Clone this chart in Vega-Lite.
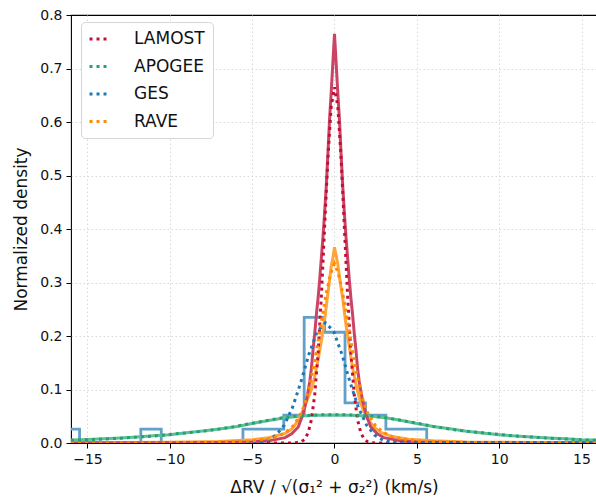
{
  "$schema": "https://vega.github.io/schema/vega-lite/v6.json",
  "width": 526,
  "height": 428,
  "autosize": {"type": "none"},
  "padding": {"left": 71, "top": 15, "right": 0, "bottom": 59},
  "background": "white",
  "config": {
    "font": "DejaVu Sans",
    "view": {"stroke": "black", "strokeWidth": 1.1},
    "axis": {
      "domain": false,
      "grid": true,
      "gridColor": "#d4d4d4",
      "gridDash": [1.5, 2.5],
      "gridWidth": 0.9,
      "tickColor": "black",
      "tickSize": 5,
      "tickWidth": 1,
      "labelFont": "DejaVu Sans",
      "labelFontSize": 14,
      "labelColor": "#111",
      "titleFont": "DejaVu Sans",
      "titleFontSize": 17,
      "titleFontWeight": "normal",
      "titleColor": "#111"
    },
    "legend": {
      "labelFont": "DejaVu Sans",
      "labelFontSize": 17,
      "labelColor": "#111"
    }
  },
  "datasets": {
    "ges": [
      {"x": -16.8, "y": 0},
      {"x": -16.72, "y": 0.026},
      {"x": -15.48, "y": 0},
      {"x": -11.76, "y": 0.026},
      {"x": -10.52, "y": 0},
      {"x": -5.56, "y": 0.026},
      {"x": -4.32, "y": 0.026},
      {"x": -3.08, "y": 0.052},
      {"x": -1.84, "y": 0.235},
      {"x": -0.6, "y": 0.207},
      {"x": 0.64, "y": 0.075},
      {"x": 1.88, "y": 0.052},
      {"x": 3.12, "y": 0.026},
      {"x": 4.36, "y": 0.026},
      {"x": 5.6, "y": 0}
    ],
    "solid": [
      {"s": "APOGEE", "x": -16, "y": 0.0055}, {"s": "APOGEE", "x": -15, "y": 0.0065}, {"s": "APOGEE", "x": -14, "y": 0.008}, {"s": "APOGEE", "x": -13, "y": 0.0095}, {"s": "APOGEE", "x": -12, "y": 0.011}, {"s": "APOGEE", "x": -11, "y": 0.0135}, {"s": "APOGEE", "x": -10, "y": 0.0155}, {"s": "APOGEE", "x": -9, "y": 0.019}, {"s": "APOGEE", "x": -8, "y": 0.0225}, {"s": "APOGEE", "x": -7, "y": 0.026}, {"s": "APOGEE", "x": -6, "y": 0.0305}, {"s": "APOGEE", "x": -5, "y": 0.0365}, {"s": "APOGEE", "x": -4, "y": 0.042}, {"s": "APOGEE", "x": -3, "y": 0.047}, {"s": "APOGEE", "x": -2, "y": 0.0505}, {"s": "APOGEE", "x": -1, "y": 0.052}, {"s": "APOGEE", "x": 0, "y": 0.0525}, {"s": "APOGEE", "x": 1, "y": 0.052}, {"s": "APOGEE", "x": 2, "y": 0.0505}, {"s": "APOGEE", "x": 3, "y": 0.0475}, {"s": "APOGEE", "x": 4, "y": 0.0425}, {"s": "APOGEE", "x": 5, "y": 0.0365}, {"s": "APOGEE", "x": 6, "y": 0.031}, {"s": "APOGEE", "x": 7, "y": 0.0265}, {"s": "APOGEE", "x": 8, "y": 0.022}, {"s": "APOGEE", "x": 9, "y": 0.0185}, {"s": "APOGEE", "x": 10, "y": 0.0155}, {"s": "APOGEE", "x": 11, "y": 0.013}, {"s": "APOGEE", "x": 12, "y": 0.011}, {"s": "APOGEE", "x": 13, "y": 0.0092}, {"s": "APOGEE", "x": 14, "y": 0.0078}, {"s": "APOGEE", "x": 15, "y": 0.0063}, {"s": "APOGEE", "x": 16, "y": 0.0055},
      {"s": "RAVE", "x": -16, "y": 0.0005}, {"s": "RAVE", "x": -10, "y": 0.0015}, {"s": "RAVE", "x": -7, "y": 0.003}, {"s": "RAVE", "x": -5, "y": 0.006}, {"s": "RAVE", "x": -4, "y": 0.01}, {"s": "RAVE", "x": -3, "y": 0.018}, {"s": "RAVE", "x": -2.6, "y": 0.026}, {"s": "RAVE", "x": -2.2, "y": 0.042}, {"s": "RAVE", "x": -2.0, "y": 0.055}, {"s": "RAVE", "x": -1.8, "y": 0.07}, {"s": "RAVE", "x": -1.6, "y": 0.085}, {"s": "RAVE", "x": -1.4, "y": 0.1}, {"s": "RAVE", "x": -1.2, "y": 0.124}, {"s": "RAVE", "x": -1.0, "y": 0.155}, {"s": "RAVE", "x": -0.8, "y": 0.19}, {"s": "RAVE", "x": -0.6, "y": 0.23}, {"s": "RAVE", "x": -0.4, "y": 0.28}, {"s": "RAVE", "x": -0.2, "y": 0.33}, {"s": "RAVE", "x": -0.1, "y": 0.345}, {"s": "RAVE", "x": 0, "y": 0.366}, {"s": "RAVE", "x": 0.1, "y": 0.35}, {"s": "RAVE", "x": 0.2, "y": 0.335}, {"s": "RAVE", "x": 0.3, "y": 0.31}, {"s": "RAVE", "x": 0.5, "y": 0.27}, {"s": "RAVE", "x": 0.7, "y": 0.22}, {"s": "RAVE", "x": 0.9, "y": 0.18}, {"s": "RAVE", "x": 1.1, "y": 0.14}, {"s": "RAVE", "x": 1.3, "y": 0.11}, {"s": "RAVE", "x": 1.5, "y": 0.085}, {"s": "RAVE", "x": 1.7, "y": 0.065}, {"s": "RAVE", "x": 2.0, "y": 0.045}, {"s": "RAVE", "x": 2.4, "y": 0.03}, {"s": "RAVE", "x": 2.8, "y": 0.02}, {"s": "RAVE", "x": 3.5, "y": 0.012}, {"s": "RAVE", "x": 4.5, "y": 0.007}, {"s": "RAVE", "x": 6, "y": 0.004}, {"s": "RAVE", "x": 8, "y": 0.002}, {"s": "RAVE", "x": 12, "y": 0.001}, {"s": "RAVE", "x": 16, "y": 0.0005},
      {"s": "LAMOST", "x": -16, "y": 0}, {"s": "LAMOST", "x": -7, "y": 0.001}, {"s": "LAMOST", "x": -5, "y": 0.002}, {"s": "LAMOST", "x": -4, "y": 0.004}, {"s": "LAMOST", "x": -3, "y": 0.01}, {"s": "LAMOST", "x": -2.6, "y": 0.017}, {"s": "LAMOST", "x": -2.2, "y": 0.03}, {"s": "LAMOST", "x": -1.9, "y": 0.055}, {"s": "LAMOST", "x": -1.7, "y": 0.08}, {"s": "LAMOST", "x": -1.5, "y": 0.115}, {"s": "LAMOST", "x": -1.4, "y": 0.14}, {"s": "LAMOST", "x": -1.3, "y": 0.175}, {"s": "LAMOST", "x": -1.2, "y": 0.205}, {"s": "LAMOST", "x": -1.1, "y": 0.24}, {"s": "LAMOST", "x": -1.0, "y": 0.27}, {"s": "LAMOST", "x": -0.9, "y": 0.305}, {"s": "LAMOST", "x": -0.8, "y": 0.345}, {"s": "LAMOST", "x": -0.7, "y": 0.385}, {"s": "LAMOST", "x": -0.6, "y": 0.43}, {"s": "LAMOST", "x": -0.5, "y": 0.48}, {"s": "LAMOST", "x": -0.4, "y": 0.54}, {"s": "LAMOST", "x": -0.3, "y": 0.605}, {"s": "LAMOST", "x": -0.2, "y": 0.655}, {"s": "LAMOST", "x": -0.1, "y": 0.71}, {"s": "LAMOST", "x": 0, "y": 0.765}, {"s": "LAMOST", "x": 0.1, "y": 0.71}, {"s": "LAMOST", "x": 0.2, "y": 0.655}, {"s": "LAMOST", "x": 0.3, "y": 0.605}, {"s": "LAMOST", "x": 0.4, "y": 0.54}, {"s": "LAMOST", "x": 0.5, "y": 0.48}, {"s": "LAMOST", "x": 0.6, "y": 0.43}, {"s": "LAMOST", "x": 0.7, "y": 0.385}, {"s": "LAMOST", "x": 0.8, "y": 0.345}, {"s": "LAMOST", "x": 0.9, "y": 0.305}, {"s": "LAMOST", "x": 1.0, "y": 0.27}, {"s": "LAMOST", "x": 1.1, "y": 0.24}, {"s": "LAMOST", "x": 1.2, "y": 0.205}, {"s": "LAMOST", "x": 1.3, "y": 0.175}, {"s": "LAMOST", "x": 1.4, "y": 0.14}, {"s": "LAMOST", "x": 1.5, "y": 0.115}, {"s": "LAMOST", "x": 1.7, "y": 0.08}, {"s": "LAMOST", "x": 1.9, "y": 0.055}, {"s": "LAMOST", "x": 2.2, "y": 0.03}, {"s": "LAMOST", "x": 2.6, "y": 0.017}, {"s": "LAMOST", "x": 3, "y": 0.01}, {"s": "LAMOST", "x": 4, "y": 0.004}, {"s": "LAMOST", "x": 5, "y": 0.002}, {"s": "LAMOST", "x": 7, "y": 0.001}, {"s": "LAMOST", "x": 16, "y": 0}
    ],
    "model": [
      {"s": "LAMOST", "x": -16, "y": 0}, {"s": "LAMOST", "x": -2.4, "y": 0.0001}, {"s": "LAMOST", "x": -2.0, "y": 0.0026}, {"s": "LAMOST", "x": -1.8, "y": 0.0074}, {"s": "LAMOST", "x": -1.6, "y": 0.019}, {"s": "LAMOST", "x": -1.4, "y": 0.0437}, {"s": "LAMOST", "x": -1.2, "y": 0.09}, {"s": "LAMOST", "x": -1.0, "y": 0.166}, {"s": "LAMOST", "x": -0.8, "y": 0.273}, {"s": "LAMOST", "x": -0.6, "y": 0.403}, {"s": "LAMOST", "x": -0.4, "y": 0.533}, {"s": "LAMOST", "x": -0.2, "y": 0.629}, {"s": "LAMOST", "x": 0, "y": 0.665}, {"s": "LAMOST", "x": 0.2, "y": 0.629}, {"s": "LAMOST", "x": 0.4, "y": 0.533}, {"s": "LAMOST", "x": 0.6, "y": 0.403}, {"s": "LAMOST", "x": 0.8, "y": 0.273}, {"s": "LAMOST", "x": 1.0, "y": 0.166}, {"s": "LAMOST", "x": 1.2, "y": 0.09}, {"s": "LAMOST", "x": 1.4, "y": 0.0437}, {"s": "LAMOST", "x": 1.6, "y": 0.019}, {"s": "LAMOST", "x": 1.8, "y": 0.0074}, {"s": "LAMOST", "x": 2.0, "y": 0.0026}, {"s": "LAMOST", "x": 2.4, "y": 0.0001}, {"s": "LAMOST", "x": 16, "y": 0},
      {"s": "APOGEE", "x": -16, "y": 0.005}, {"s": "APOGEE", "x": -15, "y": 0.006}, {"s": "APOGEE", "x": -14, "y": 0.0075}, {"s": "APOGEE", "x": -13, "y": 0.009}, {"s": "APOGEE", "x": -12, "y": 0.011}, {"s": "APOGEE", "x": -11, "y": 0.013}, {"s": "APOGEE", "x": -10, "y": 0.016}, {"s": "APOGEE", "x": -9, "y": 0.019}, {"s": "APOGEE", "x": -8, "y": 0.022}, {"s": "APOGEE", "x": -7, "y": 0.026}, {"s": "APOGEE", "x": -6, "y": 0.031}, {"s": "APOGEE", "x": -5, "y": 0.037}, {"s": "APOGEE", "x": -4, "y": 0.0425}, {"s": "APOGEE", "x": -3, "y": 0.048}, {"s": "APOGEE", "x": -2, "y": 0.051}, {"s": "APOGEE", "x": -1, "y": 0.0525}, {"s": "APOGEE", "x": 0, "y": 0.053}, {"s": "APOGEE", "x": 1, "y": 0.0525}, {"s": "APOGEE", "x": 2, "y": 0.051}, {"s": "APOGEE", "x": 3, "y": 0.048}, {"s": "APOGEE", "x": 4, "y": 0.0425}, {"s": "APOGEE", "x": 5, "y": 0.037}, {"s": "APOGEE", "x": 6, "y": 0.031}, {"s": "APOGEE", "x": 7, "y": 0.026}, {"s": "APOGEE", "x": 8, "y": 0.022}, {"s": "APOGEE", "x": 9, "y": 0.019}, {"s": "APOGEE", "x": 10, "y": 0.016}, {"s": "APOGEE", "x": 11, "y": 0.013}, {"s": "APOGEE", "x": 12, "y": 0.011}, {"s": "APOGEE", "x": 13, "y": 0.009}, {"s": "APOGEE", "x": 14, "y": 0.0075}, {"s": "APOGEE", "x": 15, "y": 0.006}, {"s": "APOGEE", "x": 16, "y": 0.005},
      {"s": "GES", "x": -16, "y": 0}, {"s": "GES", "x": -5.55, "y": 0}, {"s": "GES", "x": -4.55, "y": 0.0017}, {"s": "GES", "x": -4.05, "y": 0.0054}, {"s": "GES", "x": -3.55, "y": 0.0144}, {"s": "GES", "x": -3.05, "y": 0.0334}, {"s": "GES", "x": -2.55, "y": 0.0664}, {"s": "GES", "x": -2.05, "y": 0.113}, {"s": "GES", "x": -1.55, "y": 0.166}, {"s": "GES", "x": -1.05, "y": 0.2085}, {"s": "GES", "x": -0.55, "y": 0.225}, {"s": "GES", "x": -0.05, "y": 0.2085}, {"s": "GES", "x": 0.45, "y": 0.166}, {"s": "GES", "x": 0.95, "y": 0.113}, {"s": "GES", "x": 1.45, "y": 0.0664}, {"s": "GES", "x": 1.95, "y": 0.0334}, {"s": "GES", "x": 2.45, "y": 0.0144}, {"s": "GES", "x": 2.95, "y": 0.0054}, {"s": "GES", "x": 3.45, "y": 0.0017}, {"s": "GES", "x": 4.45, "y": 0}, {"s": "GES", "x": 16, "y": 0},
      {"s": "RAVE", "x": -16, "y": 0}, {"s": "RAVE", "x": -8, "y": 0.001}, {"s": "RAVE", "x": -6, "y": 0.0025}, {"s": "RAVE", "x": -5, "y": 0.004}, {"s": "RAVE", "x": -4, "y": 0.008}, {"s": "RAVE", "x": -3.5, "y": 0.012}, {"s": "RAVE", "x": -3.0, "y": 0.019}, {"s": "RAVE", "x": -2.5, "y": 0.032}, {"s": "RAVE", "x": -2.0, "y": 0.057}, {"s": "RAVE", "x": -1.75, "y": 0.078}, {"s": "RAVE", "x": -1.5, "y": 0.108}, {"s": "RAVE", "x": -1.25, "y": 0.145}, {"s": "RAVE", "x": -1.0, "y": 0.19}, {"s": "RAVE", "x": -0.75, "y": 0.235}, {"s": "RAVE", "x": -0.5, "y": 0.28}, {"s": "RAVE", "x": -0.25, "y": 0.315}, {"s": "RAVE", "x": 0, "y": 0.335}, {"s": "RAVE", "x": 0.25, "y": 0.315}, {"s": "RAVE", "x": 0.5, "y": 0.28}, {"s": "RAVE", "x": 0.75, "y": 0.235}, {"s": "RAVE", "x": 1.0, "y": 0.19}, {"s": "RAVE", "x": 1.25, "y": 0.145}, {"s": "RAVE", "x": 1.5, "y": 0.108}, {"s": "RAVE", "x": 1.75, "y": 0.078}, {"s": "RAVE", "x": 2.0, "y": 0.057}, {"s": "RAVE", "x": 2.5, "y": 0.032}, {"s": "RAVE", "x": 3.0, "y": 0.019}, {"s": "RAVE", "x": 3.5, "y": 0.012}, {"s": "RAVE", "x": 4, "y": 0.008}, {"s": "RAVE", "x": 5, "y": 0.004}, {"s": "RAVE", "x": 6, "y": 0.0025}, {"s": "RAVE", "x": 8, "y": 0.001}, {"s": "RAVE", "x": 16, "y": 0}
    ]
  },
  "encoding": {
    "x": {
      "field": "x", "type": "quantitative",
      "scale": {"domain": [-16, 15.94], "nice": false, "zero": false},
      "axis": {"values": [-15, -10, -5, 0, 5, 10, 15], "title": "ΔRV / √(σ₁² + σ₂²)  (km/s)", "titlePadding": 13, "labelPadding": 4}
    },
    "y": {
      "field": "y", "type": "quantitative",
      "scale": {"domain": [0, 0.8], "nice": false},
      "axis": {
        "values": [0, 0.1, 0.2, 0.3, 0.4, 0.5, 0.6, 0.7, 0.8], "format": ".1f", "title": "Normalized density", "titlePadding": 9, "labelPadding": 4,
        "gridOpacity": {"condition": {"test": "datum.value <= 0.001 || datum.value >= 0.799", "value": 0}, "value": 1}
      }
    }
  },
  "layer": [
    {
      "data": {"name": "ges"},
      "mark": {"type": "line", "interpolate": "step-after", "color": "#62a0ca", "strokeWidth": 2.8, "clip": true}
    },
    {
      "data": {"name": "solid"},
      "transform": [{"filter": "datum.s === 'APOGEE'"}],
      "mark": {"type": "line", "color": "#5fbd97", "strokeWidth": 3, "clip": true}
    },
    {
      "data": {"name": "solid"},
      "transform": [{"filter": "datum.s === 'RAVE'"}],
      "mark": {"type": "line", "color": "#ffa53a", "strokeWidth": 3, "clip": true}
    },
    {
      "data": {"name": "solid"},
      "transform": [{"filter": "datum.s === 'LAMOST'"}],
      "mark": {"type": "line", "color": "#cc4465", "strokeWidth": 3, "clip": true}
    },
    {
      "data": {"name": "model"},
      "mark": {"type": "line", "strokeWidth": 3, "strokeDash": [3, 4], "strokeCap": "butt", "clip": true},
      "encoding": {
        "color": {
          "field": "s", "type": "nominal",
          "scale": {"domain": ["LAMOST", "APOGEE", "GES", "RAVE"], "range": ["#c0103a", "#24a372", "#1f77b4", "#ff8c00"]},
          "legend": {
            "title": null,
            "orient": "none",
            "legendX": 10,
            "legendY": 7,
            "fillColor": "white",
            "strokeColor": "#d6d6d6",
            "cornerRadius": 4,
            "padding": 8,
            "rowPadding": 10.5,
            "symbolType": "M-1.2,0H1.2",
            "symbolSize": 200,
            "symbolStrokeWidth": 3,
            "symbolDash": [3, 4],
            "labelOffset": 27
          }
        }
      }
    }
  ]
}
